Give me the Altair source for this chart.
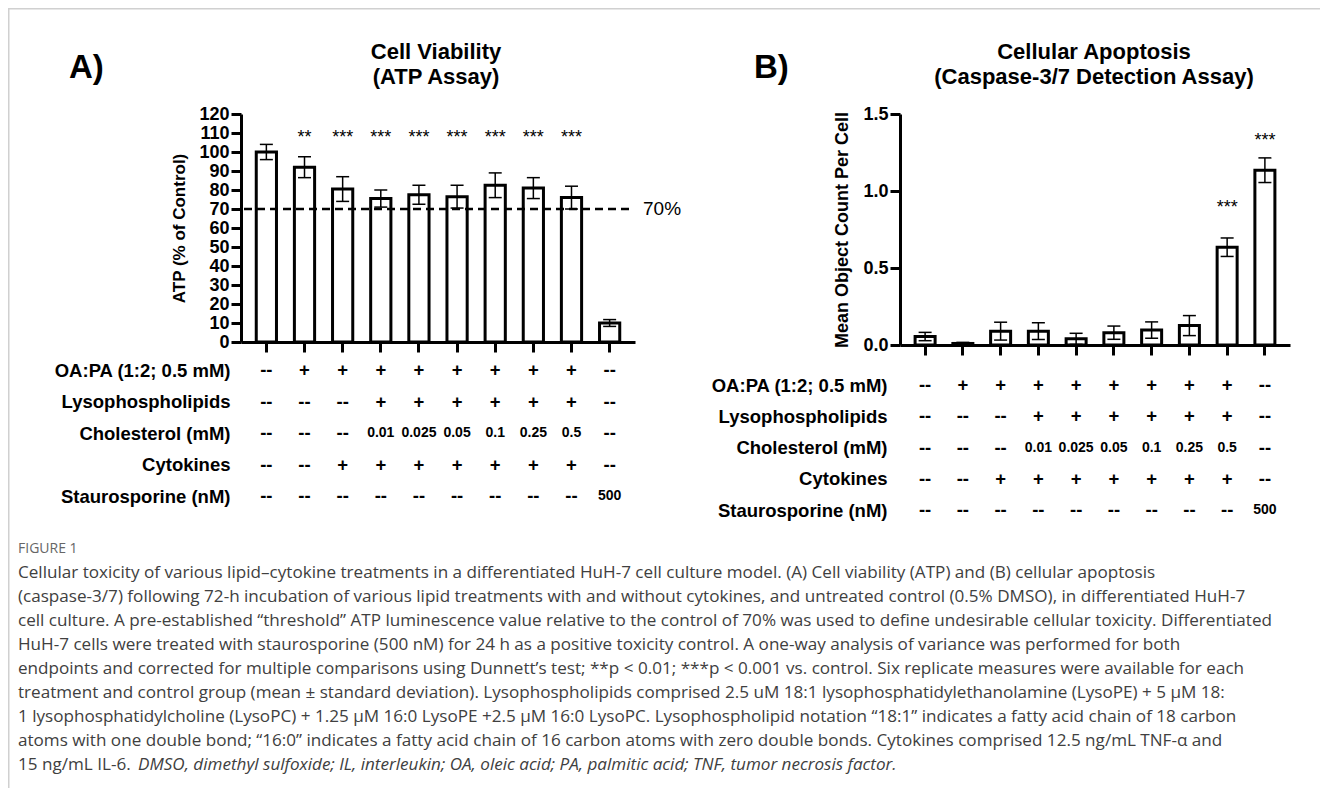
import altair as alt
import pandas as pd

FONT = "Liberation Sans"
CAP_FONT = "Open Sans"

# ---------------- data ----------------
groups = ["Control", "OA:PA", "OA:PA+Cyt", "Chol 0.01", "Chol 0.025",
          "Chol 0.05", "Chol 0.1", "Chol 0.25", "Chol 0.5", "Staurosporine"]

atp_mean = [100, 92, 80.5, 75.5, 77.5, 76.5, 82.5, 81, 76, 10]
atp_sd = [4, 5.5, 6.5, 4.5, 5, 6, 6.5, 5.5, 6, 1.8]
atp_sig = ["", "**", "***", "***", "***", "***", "***", "***", "***", ""]
atp_sig_level = [None, 105, 105, 105, 105, 105, 105, 105, 105, None]

cas_mean = [0.055, 0.01, 0.09, 0.09, 0.04, 0.08, 0.097, 0.126, 0.635, 1.135]
cas_sd = [0.027, 0.007, 0.058, 0.054, 0.036, 0.043, 0.053, 0.065, 0.06, 0.08]
cas_sig = ["", "", "", "", "", "", "", "", "***", "***"]
cas_sig_level = [None, None, None, None, None, None, None, None, 0.857, 1.29]

threshold = 70

row_names = ["OA:PA (1:2; 0.5 mM)", "Lysophospholipids", "Cholesterol (mM)",
             "Cytokines", "Staurosporine (nM)"]
row_oapa = ["--", "+", "+", "+", "+", "+", "+", "+", "+", "--"]
row_lyso = ["--", "--", "--", "+", "+", "+", "+", "+", "+", "--"]
row_chol = ["--", "--", "--", "0.01", "0.025", "0.05", "0.1", "0.25", "0.5", "--"]
row_cyto = ["--", "--", "+", "+", "+", "+", "+", "+", "+", "--"]
row_stau = ["--", "--", "--", "--", "--", "--", "--", "--", "--", "500"]

caption_label = "FIGURE 1"
caption_lines = [
    "Cellular toxicity of various lipid\u2013cytokine treatments in a differentiated HuH-7 cell culture model. (A) Cell viability (ATP) and (B) cellular apoptosis",
    "(caspase-3/7) following 72-h incubation of various lipid treatments with and without cytokines, and untreated control (0.5% DMSO), in differentiated HuH-7",
    "cell culture. A pre-established \u201cthreshold\u201d ATP luminescence value relative to the control of 70% was used to define undesirable cellular toxicity. Differentiated",
    "HuH-7 cells were treated with staurosporine (500 nM) for 24 h as a positive toxicity control. A one-way analysis of variance was performed for both",
    "endpoints and corrected for multiple comparisons using Dunnett\u2019s test; **p < 0.01; ***p < 0.001 vs. control. Six replicate measures were available for each",
    "treatment and control group (mean \u00b1 standard deviation). Lysophospholipids comprised 2.5 uM 18:1 lysophosphatidylethanolamine (LysoPE) + 5 \u03bcM 18:",
    "1 lysophosphatidylcholine (LysoPC) + 1.25 \u03bcM 16:0 LysoPE +2.5 \u03bcM 16:0 LysoPC. Lysophospholipid notation \u201c18:1\u201d indicates a fatty acid chain of 18 carbon",
    "atoms with one double bond; \u201c16:0\u201d indicates a fatty acid chain of 16 carbon atoms with zero double bonds. Cytokines comprised 12.5 ng/mL TNF-\u03b1 and",
    "15 ng/mL IL-6.",
]
caption_italic = "DMSO, dimethyl sulfoxide; IL, interleukin; OA, oleic acid; PA, palmitic acid; TNF, tumor necrosis factor."

# ---------------- tables ----------------
dfA = pd.DataFrame({"group": groups, "mean": atp_mean,
                    "lo": [m - s for m, s in zip(atp_mean, atp_sd)],
                    "hi": [m + s for m, s in zip(atp_mean, atp_sd)],
                    "sig": atp_sig, "sig_y": atp_sig_level})
dfB = pd.DataFrame({"group": groups, "mean": cas_mean,
                    "lo": [max(0, m - s) for m, s in zip(cas_mean, cas_sd)],
                    "hi": [m + s for m, s in zip(cas_mean, cas_sd)],
                    "sig": cas_sig, "sig_y": cas_sig_level})

tab = pd.DataFrame([
    {"group": g, "row": r, "text": v, "small": v not in ("--", "+")}
    for r, vals in zip(row_names, [row_oapa, row_lyso, row_chol, row_cyto, row_stau])
    for g, v in zip(groups, vals)
])

cap_df = pd.DataFrame({"idx": list(range(len(caption_lines) + 1)),
                       "text": [caption_label] + caption_lines})
cap_it = pd.DataFrame({"idx": [len(caption_lines)], "text": [caption_italic]})

one = pd.DataFrame({"k": [0]})

TOTAL_W, TOTAL_H = 1312, 780


def build_panel(df, xr, base_y, top_y, ydom, yvals, yfmt, ytitle, ytitle_size,
                ytitle_pad, trange, tpad):
    xs = alt.Scale(domain=groups, range=xr, paddingInner=0.47, paddingOuter=0.40)
    xax = alt.Axis(orient="bottom", offset=base_y - TOTAL_H, labels=False, title=None,
                   ticks=True, tickSize=10, tickWidth=3, tickColor="black",
                   domainColor="black", domainWidth=3, grid=False)
    X = alt.X("group:N", scale=xs, axis=xax)
    ys = alt.Scale(domain=ydom, range=[base_y, top_y], nice=False)
    yax = alt.Axis(orient="left", offset=-xr[0], values=yvals, format=yfmt,
                   grid=False, domainColor="black", domainWidth=3,
                   tickColor="black", tickWidth=3, tickSize=10,
                   labelFont=FONT, labelFontSize=18, labelFontWeight="bold",
                   labelColor="black", labelPadding=2, labelOverlap=False,
                   title=ytitle, titleFont=FONT, titleFontSize=ytitle_size,
                   titleFontWeight="bold", titleColor="black", titlePadding=ytitle_pad)
    base = alt.Chart(df)
    bars = base.mark_bar(fill="white", stroke="black", strokeWidth=3).encode(
        x=X, y=alt.Y("mean:Q", scale=ys, axis=yax))
    err = base.mark_rule(color="black", strokeWidth=1.5).encode(
        x=X, y=alt.Y("lo:Q", scale=ys, axis=yax), y2="hi:Q")
    cap_hi = base.mark_tick(color="black", thickness=1.5, size=13, opacity=1).encode(
        x=X, y=alt.Y("hi:Q", scale=ys, axis=yax))
    cap_lo = base.mark_tick(color="black", thickness=1.5, size=13, opacity=1).encode(
        x=X, y=alt.Y("lo:Q", scale=ys, axis=yax))
    stars = base.transform_filter("datum.sig != ''").mark_text(
        font=FONT, fontSize=18, baseline="alphabetic", color="black").encode(
        x=X, y=alt.Y("sig_y:Q", scale=ys, axis=yax), text="sig:N")

    ts = alt.Scale(type="point", domain=row_names, range=trange, padding=0)
    tax = alt.Axis(orient="left", offset=-xr[0], title=None, domain=False, ticks=False,
                   tickSize=0, labelPadding=tpad, labelFont=FONT, labelFontSize=18.5,
                   labelFontWeight="bold", labelColor="black", labelLimit=400,
                   labelOverlap=False, grid=False)
    tb = alt.Chart(tab)
    big = tb.transform_filter("!datum.small").mark_text(
        font=FONT, fontSize=18.5, fontWeight="bold", color="black", baseline="middle").encode(
        x=X, y=alt.Y("row:N", scale=ts, axis=tax), text="text:N")
    small = tb.transform_filter("datum.small").mark_text(
        font=FONT, fontSize=14, fontWeight="bold", color="black", baseline="middle").encode(
        x=X, y=alt.Y("row:N", scale=ts, axis=tax), text="text:N")

    plot = alt.layer(bars, err, cap_hi, cap_lo, stars)
    table = alt.layer(big, small)
    return alt.layer(plot, table).resolve_scale(y="independent"), ys


panelA, ysA = build_panel(dfA, [233, 627], 334, 106, [0, 120], list(range(0, 121, 10)), "d",
                          "ATP (%  of Control)", 17, 10, [362, 488], 11)
panelB, ysB = build_panel(dfB, [892, 1282], 337, 106, [0, 1.5], [0, 0.5, 1.0, 1.5], ".1f",
                          "Mean Object Count Per Cell", 18, 11, [377, 502], 13)

# threshold guide for panel A
gdf = pd.DataFrame({"t": [threshold], "lbl": [f"{threshold}%"]})
gs = alt.Scale(domain=[0, 1], range=[236, 625])
ysA2 = alt.Scale(domain=[0, 120], range=[334, 106], nice=False)
dash = alt.Chart(gdf).mark_rule(color="black", strokeWidth=2.5, strokeDash=[8, 5]).encode(
    x=alt.XDatum(0, type="quantitative", scale=gs, axis=None),
    x2=alt.X2Datum(1),
    y=alt.Y("t:Q", scale=ysA2, axis=None))
lab70 = alt.Chart(gdf).mark_text(font=FONT, fontSize=19, align="left", baseline="middle",
                                 dx=10, color="black").encode(
    x=alt.XDatum(1, type="quantitative", scale=gs, axis=None),
    y=alt.Y("t:Q", scale=ysA2, axis=None), text="lbl:N")
guideA = alt.layer(dash, lab70)


def label(text, x, y, size, align="center"):
    return alt.Chart(one).mark_text(text=text, font=FONT, fontSize=size, fontWeight="bold",
                                    align=align, baseline="alphabetic", lineBreak="\n",
                                    lineHeight=25, color="black").encode(
        x=alt.value(x), y=alt.value(y))


letterA = label("A)", 61, 70, 33, "left")
letterB = label("B)", 746, 70, 33, "left")
titleA = label("Cell Viability\n(ATP Assay)", 428, 51, 22)
titleB = label("Cellular Apoptosis\n(Caspase-3/7 Detection Assay)", 1086, 51, 22)

# caption
cs = alt.Scale(type="point", domain=list(range(len(caption_lines) + 1)), range=[541, 757], padding=0)
capY = alt.Y("idx:O", scale=cs, axis=None)
cap_label = alt.Chart(cap_df).transform_filter("datum.idx == 0").mark_text(
    font=CAP_FONT, fontSize=14, align="left", baseline="middle", color="#666666").encode(
    x=alt.value(10), y=capY, text="text:N")
cap_main = alt.Chart(cap_df).transform_filter("datum.idx > 0").mark_text(
    font=CAP_FONT, fontSize=17.1, align="left", baseline="middle", color="#404040").encode(
    x=alt.value(10), y=capY, text="text:N")
cap_ital = alt.Chart(cap_it).mark_text(
    font=CAP_FONT, fontSize=17.1, fontStyle="italic", align="left", baseline="middle",
    color="#404040", dx=120).encode(x=alt.value(10), y=capY, text="text:N")
caption = alt.layer(cap_label, cap_main, cap_ital)

# figure frame
frame_top = alt.Chart(one).mark_rule(color="#d0d0d0", strokeWidth=1.5).encode(
    x=alt.value(0), x2=alt.value(TOTAL_W), y=alt.value(0.75))
frame_left = alt.Chart(one).mark_rule(color="#d0d0d0", strokeWidth=1.5).encode(
    x=alt.value(0.75), y=alt.value(0), y2=alt.value(TOTAL_H))

chart = alt.layer(
    frame_top, frame_left, panelA, guideA, panelB, caption,
    letterA, letterB, titleA, titleB
).resolve_scale(x="independent", y="independent").properties(
    width=TOTAL_W, height=TOTAL_H, padding=0,
    autosize=alt.AutoSizeParams(type="none")
).configure_view(stroke="transparent")

chart.save("out.html", embed_options={"renderer": "svg", "actions": False})
